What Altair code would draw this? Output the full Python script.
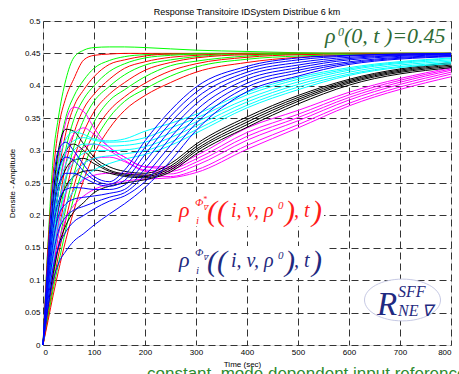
import altair as alt
import pandas as pd

# time samples (s)
T = [0, 10, 20, 30, 45, 60, 80, 100, 130, 160, 200, 250, 300, 400, 500, 600, 800]

green_fast = [
    [0, .16, .29, .35, .41, .443, .455, .459, .46, .46, .459, .457, .455, .453, .451, .45, .45],
    [0, .121, .221, .291, .352, .383, .409, .427, .439, .445, .448, .449, .45, .45, .45, .45, .45],
    [0, .09, .17, .235, .303, .347, .38, .40, .422, .434, .443, .447, .449, .45, .45, .45, .45],
    [0, .068, .13, .188, .255, .304, .348, .376, .399, .417, .432, .44, .445, .449, .45, .45, .45],
    [0, .053, .104, .151, .212, .262, .309, .344, .377, .394, .414, .431, .438, .446, .449, .45, .45],
    [0, .043, .086, .124, .179, .226, .275, .312, .351, .376, .395, .415, .429, .441, .446, .448, .45],
]
red_fast = [
    [0, .154, .265, .332, .382, .41, .44, .447, .449, .45, .45, .45, .45, .45, .45, .45, .45],
    [0, .104, .193, .262, .328, .367, .394, .414, .433, .44, .446, .449, .449, .45, .45, .45, .45],
    [0, .078, .149, .209, .28, .325, .365, .387, .41, .427, .437, .444, .447, .45, .45, .45, .45],
    [0, .06, .116, .17, .235, .285, .329, .36, .387, .405, .424, .436, .443, .448, .449, .45, .45],
    [0, .047, .094, .137, .194, .243, .292, .327, .362, .383, .404, .423, .434, .444, .448, .449, .45],
    [0, .038, .077, .113, .163, .206, .255, .294, .334, .362, .385, .405, .421, .436, .444, .447, .45],
]
magenta = [
    [0, .10, .20, .28, .345, .367, .36, .335, .305, .29, .275, .275, .292, .335, .362, .39, .428],
    [0, .085, .17, .235, .295, .325, .335, .325, .305, .29, .275, .272, .287, .328, .356, .386, .426],
    [0, .075, .15, .205, .26, .29, .305, .31, .30, .285, .27, .268, .282, .322, .351, .382, .424],
    [0, .07, .135, .185, .235, .262, .28, .288, .29, .283, .268, .264, .277, .316, .346, .378, .421],
    [0, .065, .125, .17, .215, .238, .255, .262, .265, .265, .262, .26, .27, .308, .34, .373, .418],
    [0, .06, .115, .155, .195, .215, .23, .24, .248, .253, .256, .258, .266, .302, .335, .369, .414],
]
black = [
    [0, .12, .23, .30, .333, .33, .31, .29, .275, .268, .265, .28, .31, .352, .385, .41, .436],
    [0, .105, .20, .265, .30, .31, .30, .285, .27, .264, .262, .276, .306, .348, .382, .408, .434],
    [0, .095, .18, .235, .272, .285, .288, .28, .268, .262, .26, .273, .302, .344, .379, .406, .432],
    [0, .085, .16, .21, .245, .26, .268, .27, .265, .26, .258, .27, .299, .34, .376, .404, .43],
    [0, .06, .11, .15, .185, .205, .22, .235, .245, .25, .255, .267, .295, .336, .372, .401, .428],
]
cyan = [
    [0, .11, .21, .275, .318, .329, .325, .318, .315, .318, .33, .342, .356, .39, .413, .428, .443],
    [0, .10, .19, .255, .30, .315, .32, .316, .313, .314, .32, .335, .35, .386, .41, .426, .442],
    [0, .09, .175, .235, .28, .30, .31, .31, .307, .308, .313, .327, .344, .38, .406, .424, .44],
    [0, .085, .16, .215, .26, .282, .296, .30, .30, .301, .306, .32, .338, .375, .402, .421, .438],
    [0, .075, .145, .195, .238, .262, .28, .288, .292, .295, .30, .313, .332, .37, .398, .418, .436],
    [0, .07, .13, .175, .215, .238, .258, .27, .28, .287, .294, .308, .327, .366, .394, .416, .434],
]
blue = [
    [0, .14, .25, .30, .313, .30, .278, .26, .252, .27, .315, .362, .398, .43, .443, .447, .45],
    [0, .12, .22, .27, .29, .285, .268, .255, .248, .262, .305, .353, .39, .426, .44, .446, .45],
    [0, .11, .20, .245, .265, .265, .258, .25, .245, .254, .294, .343, .381, .421, .436, .444, .449],
    [0, .10, .18, .22, .24, .243, .242, .24, .24, .247, .283, .332, .372, .416, .432, .442, .449],
    [0, .09, .16, .198, .218, .225, .228, .23, .234, .24, .272, .32, .362, .41, .428, .44, .448],
    [0, .08, .14, .175, .198, .208, .214, .22, .228, .235, .262, .308, .352, .404, .424, .437, .447],
    [0, .07, .12, .15, .175, .19, .20, .21, .222, .23, .252, .296, .342, .398, .42, .435, .446],
    [0, .06, .10, .125, .145, .16, .172, .185, .202, .218, .243, .284, .331, .391, .415, .433, .445],
]

x_ticks = [0, 100, 200, 300, 400, 500, 600, 700, 800]
y_ticks = [0, 0.05, 0.1, 0.15, 0.2, 0.25, 0.3, 0.35, 0.4, 0.45, 0.5]

# ---- build long table ----
groups = []
for g, r in zip(green_fast, red_fast):
    groups.append(("#00ff00", g))
    groups.append(("#ff0000", r))
for c in magenta:
    groups.append(("#ff00ff", c))
for c in black:
    groups.append(("#000000", c))
for c in cyan:
    groups.append(("#00ffff", c))
for c in blue:
    groups.append(("#0000ff", c))

rows = []
for i, (col, vals) in enumerate(groups):
    for t, v in zip(T, vals):
        rows.append({"id": f"s{i:02d}", "t": t, "v": v, "c": col})
df = pd.DataFrame(rows)

PL, PT = 43, 21  # plot area offset in page

grid_kw = dict(grid=True, gridDash=[7, 4], gridColor="#333333", gridOpacity=1, gridWidth=1,
               ticks=False, domain=False, labelFont="Liberation Sans", labelFontSize=8,
               labelColor="black", titleFont="Liberation Sans", titleFontSize=8,
               titleFontWeight="normal", titleColor="black", labelPadding=3)

lines = alt.Chart(df).mark_line(strokeWidth=1, interpolate="monotone").encode(
    x=alt.X("t:Q", scale=alt.Scale(domain=[0, 800], nice=False, zero=False),
            axis=alt.Axis(values=x_ticks, format="d", title="Time (sec)",
                          titleX=199, titleY=21, titleBaseline="alphabetic", titleAlign="center",
                          **grid_kw)),
    y=alt.Y("v:Q", scale=alt.Scale(domain=[0, 0.5], nice=False),
            axis=alt.Axis(values=y_ticks, format="~g", title="Densite - Amplitude",
                          titleX=-31, titleY=162, titleAngle=270, titleAlign="center",
                          titleBaseline="middle", **grid_kw)),
    color=alt.Color("c:N", scale=None),
    detail="id:N",
)

one = alt.Data(values=[{"a": 1}])


def box(x1, y1, x2, y2):
    return alt.Chart(one).mark_rect(color="white").encode(
        x=alt.value(x1 - PL), x2=alt.value(x2 - PL), y=alt.value(y1 - PT), y2=alt.value(y2 - PT))


def txt(s, x, y, size, color, font="Liberation Serif", style="italic"):
    return alt.Chart(one).mark_text(text=s, align="left", baseline="alphabetic", font=font,
                                    fontStyle=style, fontSize=size, color=color).encode(
        x=alt.value(x - PL), y=alt.value(y - PT))


layers = [lines,
          box(320, 22, 450, 50), box(173, 192, 324, 226), box(173, 246, 326, 278)]

GREEN = "#2f6b35"
RED = "#ff1a1a"
NAVY = "#1f2a80"

# rho^0(0, t) = 0.45
layers += [txt("ρ", 325, 43, 22, GREEN), txt("0", 338, 36, 12, GREEN),
           txt("(0, t )=0.45", 344, 43, 22, GREEN)]


def formula(dy, col, star):
    out = [txt("ρ", 179, 217 + dy, 22, col),
           txt("Φ", 195, 206 + dy, 11, col),
           txt("∇", 203, 210 + dy, 7, col),
           txt("i", 196, 224 + dy, 11, col),
           txt("((", 207, 221 + dy, 30, col),
           txt("i, v, ρ", 231, 217 + dy, 20, col),
           txt("0", 278, 209 + dy, 11, col),
           txt(")", 285, 221 + dy, 30, col),
           txt(", t", 294, 217 + dy, 20, col),
           txt(")", 312, 221 + dy, 30, col)]
    if star:
        out.append(txt("*", 203, 202 + dy, 8, col))
    return out


layers += formula(0, RED, True)
layers += formula(50, NAVY, False)

# ellipse with R^{SFF}_{NE nabla}
ellipse = alt.Chart(one).mark_point(
    shape="M-1,0A1,0.55,0,1,0,1,0A1,0.55,0,1,0,-1,0Z", size=76 * 76, filled=True,
    fill="white", stroke="#c6c9e4", strokeWidth=1, opacity=1).encode(
    x=alt.value(402.5 - PL), y=alt.value(300 - PT))
layers += [ellipse,
           txt("R", 377, 315, 33, NAVY),
           txt("SFF", 398, 297, 16, NAVY),
           txt("NE ∇", 398, 316, 16, NAVY)]

# cut-off caption at the bottom
layers.append(txt("constant, mode dependent input reference", 147, 379, 17, "#2e8b2e",
                  font="Liberation Sans", style="normal"))

chart = alt.layer(*layers).properties(
    width=408, height=324,
    title=alt.TitleParams("Response Transitoire IDSystem Distribue 6 km", fontSize=9,
                          font="Liberation Sans", fontWeight="normal", anchor="middle",
                          offset=0, color="black"),
    autosize=alt.AutoSizeParams(type="none"),
    padding={"left": 43, "top": 21, "right": 8, "bottom": 29},
).configure_view(stroke="black", strokeWidth=1).configure(background="white")

chart.save("out.html", embed_options={"renderer": "svg", "actions": False})
